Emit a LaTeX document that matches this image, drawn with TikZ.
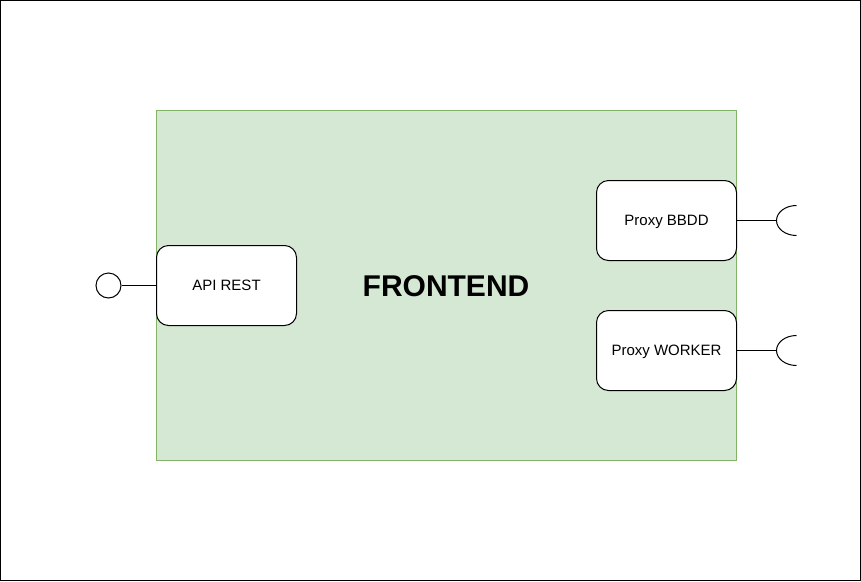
\documentclass[tikz,border=0pt]{standalone}
\usepackage{fontspec}
\setmainfont{Liberation Sans}
\begin{document}
\begin{tikzpicture}[x=1pt,y=-1pt,line width=1pt,
  comp/.style={draw=black,fill=white,rounded corners=12pt,minimum width=140pt,minimum height=80pt,inner sep=0pt,text height=10.8pt,text depth=0pt,font=\fontsize{15}{18}\selectfont}]
\useasboundingbox (0,0) rectangle (861,581);
\draw[black] (0.5,0.5) rectangle (860.5,580.5);
\definecolor{frfill}{HTML}{D5E8D4}
\definecolor{frline}{HTML}{82B366}
\node[draw=frline,fill=frfill,minimum width=580pt,minimum height=350pt,inner sep=0pt] (front) at (446.5,285.5) {};
\node[font=\bfseries\fontsize{30}{36}\selectfont,text height=21.5pt,text depth=0pt,inner sep=0pt] (title) at (446,286) {FRONTEND};
\node[comp] (api) at (226.5,285.5) {API REST};
\node[comp] (bbdd) at (666.5,220.5) {Proxy BBDD};
\node[comp] (worker) at (666.5,350.5) {Proxy WORKER};
\node[circle,draw,fill=white,minimum size=25pt,inner sep=0pt] (iface) at (108.5,285.5) {};
\draw (iface.east) -- (api.west);
\coordinate (s1) at (776.5,220.5);
\coordinate (s2) at (776.5,350.5);
\draw (bbdd.east) -- (s1);
\draw (worker.east) -- (s2);
\draw (796.5,205.5) arc[start angle=90,end angle=270,x radius=20,y radius=-15];
\draw (796.5,335.5) arc[start angle=90,end angle=270,x radius=20,y radius=-15];
\end{tikzpicture}
\end{document}
